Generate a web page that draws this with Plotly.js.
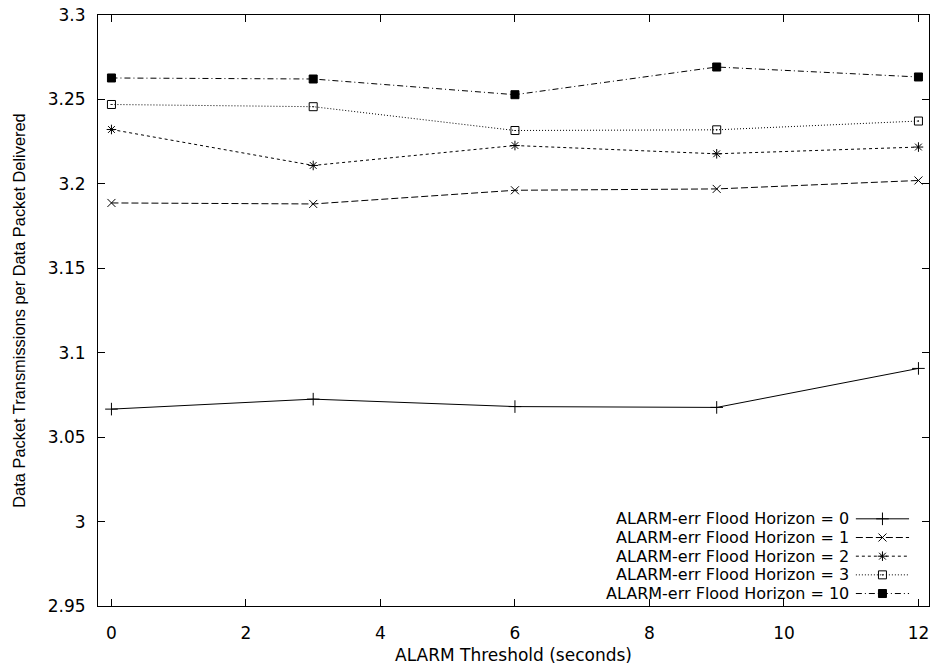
<!DOCTYPE html>
<html>
<head>
<meta charset="utf-8">
<script src="https://cdn.plot.ly/plotly-3.0.1.min.js"></script>
<style>html,body{margin:0;padding:0;background:#fff;}#chart{width:930px;height:668px;}</style>
</head>
<body>
<div id="chart"></div>
<script>
// ---- data ----
const thresholds = [0, 3, 6, 9, 12];
const horizon0  = [3.0666, 3.0725, 3.0681, 3.0676, 3.0907];
const horizon1  = [3.1887, 3.1881, 3.1962, 3.1970, 3.2020];
const horizon2  = [3.2322, 3.2109, 3.2227, 3.2178, 3.2218];
const horizon3  = [3.2470, 3.2457, 3.2316, 3.2320, 3.2372];
const horizon10 = [3.2627, 3.2621, 3.2528, 3.2692, 3.2633];
const seriesNames = [
  'ALARM-err Flood Horizon = 0',
  'ALARM-err Flood Horizon = 1',
  'ALARM-err Flood Horizon = 2',
  'ALARM-err Flood Horizon = 3',
  'ALARM-err Flood Horizon = 10'
];
const xTickVals = [0, 2, 4, 6, 8, 10, 12];
const yTickVals = [2.95, 3, 3.05, 3.1, 3.15, 3.2, 3.25, 3.3];
const yTickText = ['2.95', '3', '3.05', '3.1', '3.15', '3.2', '3.25', '3.3'];

// ---- styles ----
const seriesData = [horizon0, horizon1, horizon2, horizon3, horizon10];
const styles = [
  {dash: 'solid',              symbol: 'cross-thin-open', size: 9},
  {dash: '7px,3px',            symbol: 'x-thin-open',     size: 8},
  {dash: '3px,3px',            symbol: 'asterisk-open',   size: 8},
  {dash: '1px,2px',            symbol: 'square-open-dot', size: 8},
  {dash: '6px,3px,1px,3px',    symbol: 'square',          size: 8}
];
const wideFont = 'DejaVu Sans, Verdana, sans-serif';
const narrowFont = 'Liberation Sans, Arial, Helvetica, sans-serif';

const traces = seriesData.map((ys, i) => ({
  x: thresholds, y: ys, type: 'scatter', mode: 'lines+markers',
  name: seriesNames[i], showlegend: false, hoverinfo: 'skip',
  line: {color: '#000', width: 1, dash: styles[i].dash},
  marker: {symbol: styles[i].symbol, size: styles[i].size, color: '#000',
           line: {color: '#000', width: 1}}
}));

// ---- custom gnuplot-style legend (text right, sample on the right) ----
const legendTop = 0.1475, legendStep = 0.0316;
const annotations = [];
const shapes = [];
seriesNames.forEach((nm, i) => {
  const yy = legendTop - i * legendStep;
  annotations.push({
    xref: 'paper', yref: 'paper', x: 0.9045, y: yy, xanchor: 'right', yanchor: 'middle',
    text: nm, showarrow: false, borderpad: 0, font: {family: wideFont, size: 16, color: '#000'}
  });
  shapes.push({
    type: 'line', xref: 'paper', yref: 'paper', x0: 0.912, x1: 0.976, y0: yy, y1: yy,
    line: {color: '#000', width: 1, dash: styles[i].dash}
  });
  traces.push({
    x: [0.944], y: [yy], xaxis: 'x2', yaxis: 'y2', type: 'scatter', mode: 'markers',
    showlegend: false, hoverinfo: 'skip',
    marker: {symbol: styles[i].symbol, size: styles[i].size, color: '#000',
             line: {color: '#000', width: 1}}
  });
});

const layout = {
  width: 930, height: 668,
  margin: {l: 98, r: 1, t: 15, b: 62},
  paper_bgcolor: '#fff', plot_bgcolor: '#fff',
  showlegend: false,
  font: {family: wideFont, size: 17, color: '#000'},
  xaxis: {
    range: [-0.2, 12.157], tickvals: xTickVals, ticktext: xTickVals.map(String),
    ticks: 'inside', ticklen: 7, tickcolor: '#000', tickwidth: 1,
    showline: true, linecolor: '#000', linewidth: 1, mirror: 'ticks',
    showgrid: false, zeroline: false, ticklabelstandoff: 12,
    tickfont: {family: wideFont, size: 17},
    title: {text: 'ALARM Threshold (seconds)', font: {family: wideFont, size: 17}, standoff: 6}
  },
  yaxis: {
    range: [2.95, 3.3], tickvals: yTickVals, ticktext: yTickText,
    ticks: 'inside', ticklen: 7, tickcolor: '#000', tickwidth: 1,
    showline: true, linecolor: '#000', linewidth: 1, mirror: 'ticks',
    showgrid: false, zeroline: false, ticklabelstandoff: 8,
    tickfont: {family: wideFont, size: 17},
    title: {text: 'Data Packet Transmissions per Data Packet Delivered', font: {family: narrowFont, size: 16.4}, standoff: 18}
  },
  xaxis2: {overlaying: 'x', range: [0, 1], visible: false, fixedrange: true},
  yaxis2: {overlaying: 'y', range: [0, 1], visible: false, fixedrange: true},
  annotations: annotations,
  shapes: shapes
};

Plotly.newPlot('chart', traces, layout, {displayModeBar: false, staticPlot: true});
</script>
</body>
</html>
